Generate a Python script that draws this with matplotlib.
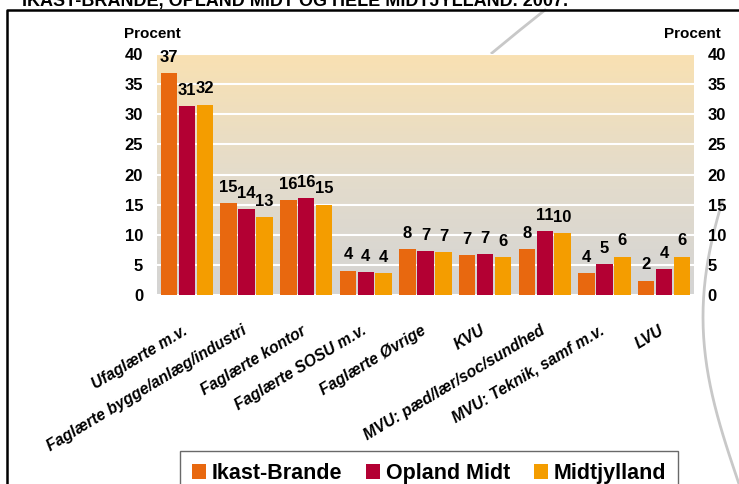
import numpy as np
import matplotlib
matplotlib.use("Agg")
import matplotlib.pyplot as plt
import matplotlib.transforms as mtransforms
from matplotlib.colors import LinearSegmentedColormap
from matplotlib.lines import Line2D

plt.rcParams['font.family'] = ['Liberation Sans', 'DejaVu Sans']
plt.rcParams['font.weight'] = 'bold'

categories = ['Ufaglærte m.v.', 'Faglærte bygge/anlæg/industri', 'Faglærte kontor',
              'Faglærte SOSU m.v.', 'Faglærte Øvrige', 'KVU',
              'MVU: pæd/lær/soc/sundhed', 'MVU: Teknik, samf m.v.', 'LVU']
series = ['Ikast-Brande', 'Opland Midt', 'Midtjylland']
ikast = [36.8, 15.3, 15.75, 4.1, 7.65, 6.6, 7.65, 3.7, 2.4]
opland = [31.4, 14.3, 16.1, 3.85, 7.3, 6.8, 10.6, 5.2, 4.35]
midt = [31.6, 12.9, 15.0, 3.7, 7.15, 6.3, 10.3, 6.4, 6.4]
colors = ['#E8680F', '#B30033', '#F49D00']

fig = plt.figure(figsize=(7.39, 4.84), dpi=100)
ax = fig.add_axes([0.2125, 0.3899, 0.7265, 0.4985])

# gradient background
bg = LinearSegmentedColormap.from_list('bg', ['#D4D4D4', '#E4DCCB', '#F9E1B2'])
grad = np.linspace(0, 1, 256).reshape(-1, 1)
ax.imshow(grad, cmap=bg, origin='lower', aspect='auto',
          extent=[-0.5, len(categories) - 0.5, 0, 40], zorder=0)

x = np.arange(len(categories))
w = 0.276
for i, (vals, name) in enumerate(zip([ikast, opland, midt], series)):
    bars = ax.bar(x + (i - 1) * 0.3, vals, w, color=colors[i], label=name, zorder=3)
    for b, v in zip(bars, vals):
        ax.annotate(f"{v:.0f}", (b.get_x() + b.get_width() / 2, v),
                    xytext=(0, 6), textcoords='offset points',
                    ha='center', va='bottom', fontsize=12, fontweight='bold', zorder=4)

ax.set_xlim(-0.5, len(categories) - 0.5)
ax.set_ylim(0, 40)
ax.set_yticks(range(0, 41, 5))
ax.yaxis.grid(True, color='white', lw=1.5, zorder=1)
ax.set_axisbelow(False)
for s in ax.spines.values():
    s.set_visible(False)
ax.tick_params(axis='y', length=0, labelleft=True, labelright=True, pad=10, labelsize=12)
ax.set_xticks(x)
ax.set_xticklabels(categories, rotation=31, ha='right', rotation_mode='anchor',
                   fontsize=11.3, fontstyle='italic', fontweight='bold')
ax.tick_params(axis='x', length=0, pad=20)
shift = mtransforms.ScaledTranslation(-5 / 100, 0, fig.dpi_scale_trans)
for lbl in ax.get_xticklabels():
    lbl.set_transform(lbl.get_transform() + shift)

fig.text(124 / 739, 1 - 38 / 484, 'Procent', fontsize=11, fontweight='bold')
fig.text(664 / 739, 1 - 38 / 484, 'Procent', fontsize=11, fontweight='bold')

fig.text(22 / 739, 1 - 6 / 484, 'IKAST-BRANDE, OPLAND MIDT OG HELE MIDTJYLLAND. 2007.',
         fontsize=13, fontweight='bold', va='baseline')

# frame and decorative arcs
fig.add_artist(Line2D([7 / 739, 7 / 739, 1], [0, 1 - 10 / 484, 1 - 10 / 484],
                      color='black', lw=1.8))
fig.add_artist(Line2D([545 / 739, 520 / 739, 492 / 739],
                      [1 - 10 / 484, 1 - 30 / 484, 1 - 53 / 484],
                      color='#C8C8C8', lw=2, zorder=0))
t = np.linspace(0, 1, 30)
arc_x = 739 - 36 * np.sin(np.pi * (0.15 + 0.85 * t))
arc_y = 200 + 284 * t
fig.add_artist(Line2D(arc_x / 739, 1 - arc_y / 484, color='#C8C8C8', lw=2, zorder=0))

leg = ax.legend(loc='upper center', bbox_to_anchor=(429 / 739, 1 - 451 / 484),
                bbox_transform=fig.transFigure, ncol=3, frameon=True, fancybox=False,
                edgecolor='#444444', fontsize=15.5, handlelength=0.65, handleheight=0.7,
                handletextpad=0.28, columnspacing=1.1, borderpad=0.55, borderaxespad=0)
leg.get_frame().set_linewidth(1.0)
for txt in leg.get_texts():
    txt.set_fontweight('bold')

fig.savefig('out.png', dpi=100)
